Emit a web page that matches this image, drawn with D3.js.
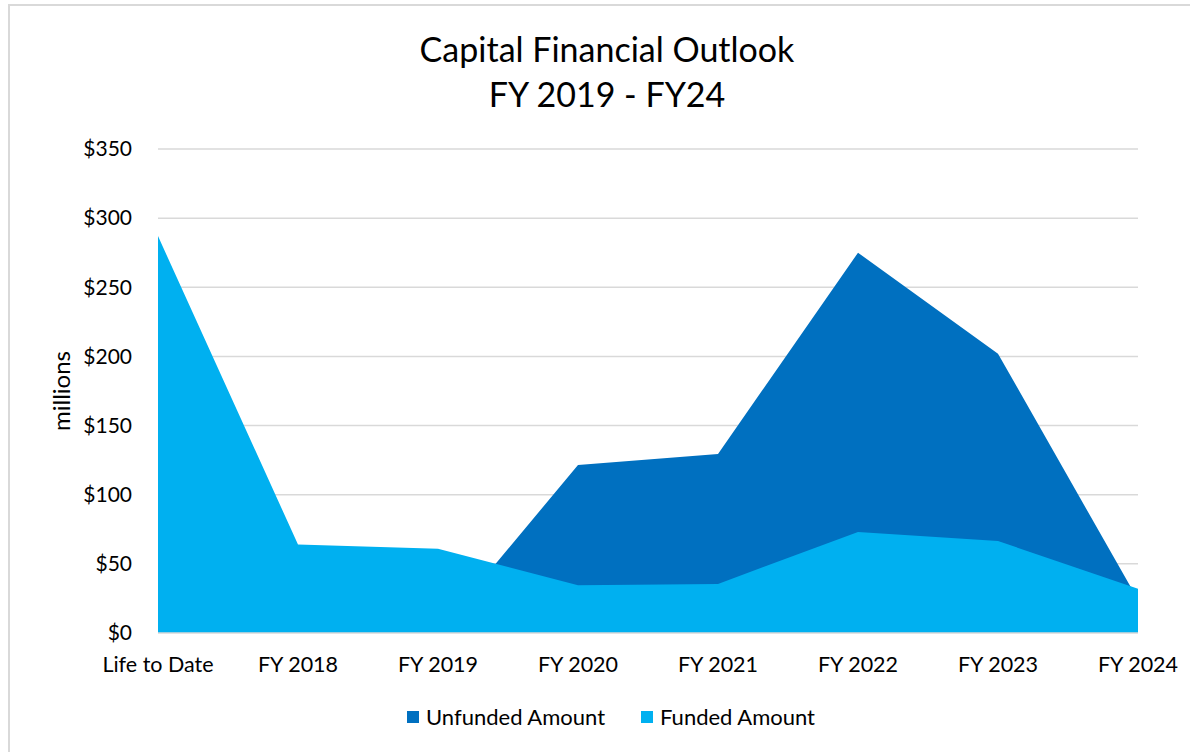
<!DOCTYPE html>
<html>
<head>
<meta charset="utf-8">
<script src="https://cdn.jsdelivr.net/npm/d3@7"></script>
<style>
  html, body { margin: 0; padding: 0; background: #fff; }
  svg { display: block; }
  text { font-family: Lato, "Open Sans", sans-serif; fill: #000; }
</style>
</head>
<body>
<svg id="chart" width="1190" height="752"></svg>
<script>
const categories = ["Life to Date", "FY 2018", "FY 2019", "FY 2020", "FY 2021", "FY 2022", "FY 2023", "FY 2024"];
const unfunded = [0, 0, 0, 121.5, 129.5, 275, 202, 24];
const funded = [287, 64, 61, 34.5, 35.5, 73, 66.5, 32];
const yTicks = [0, 50, 100, 150, 200, 250, 300, 350];
const seriesNames = ["Unfunded Amount", "Funded Amount"];
const colors = ["#0070C0", "#00B0F0"];
const titleLines = ["Capital Financial Outlook", "FY 2019 - FY24"];

const svg = d3.select("#chart");
const m = {left: 158, right: 1138, top: 149, bottom: 633};

// outer border
svg.append("rect").attr("x", 9).attr("y", 5).attr("width", 1200).attr("height", 800)
  .attr("fill", "none").attr("stroke", "#d9d9d9").attr("stroke-width", 2);

const x = d3.scalePoint().domain(categories).range([m.left, m.right]).padding(0);
const y = d3.scaleLinear().domain([0, 350]).range([m.bottom, m.top]);

// gridlines
svg.append("g").selectAll("line").data(yTicks.filter(d => d > 0)).join("line")
  .attr("x1", m.left).attr("x2", m.right)
  .attr("y1", d => y(d)).attr("y2", d => y(d))
  .attr("stroke", "#d9d9d9").attr("stroke-width", 1.5);

// areas
const area = d3.area().x((d, i) => x(categories[i])).y0(y(0)).y1(d => y(d));
[unfunded, funded].forEach((s, i) => {
  svg.append("path").datum(s).attr("d", area).attr("fill", colors[i]);
});

// x axis line
svg.append("line").attr("x1", m.left).attr("x2", m.right).attr("y1", y(0)).attr("y2", y(0))
  .attr("stroke", "#d9d9d9").attr("stroke-width", 1.5);

// y tick labels
svg.append("g").selectAll("text").data(yTicks).join("text")
  .attr("x", 132).attr("y", d => y(d)).attr("dy", "0.35em")
  .attr("text-anchor", "end").attr("font-size", 21)
  .text(d => "$" + d);

// x tick labels
svg.append("g").selectAll("text").data(categories).join("text")
  .attr("x", d => x(d)).attr("y", 672)
  .attr("text-anchor", "middle").attr("font-size", 21.5)
  .text(d => d);

// y axis title
svg.append("text").attr("transform", "translate(62,391) rotate(-90)")
  .attr("dy", "0.35em")
  .attr("text-anchor", "middle").attr("font-size", 24).text("millions");

// title
svg.append("g").selectAll("text").data(titleLines).join("text")
  .attr("x", 607).attr("y", (d, i) => 62 + i * 45)
  .attr("text-anchor", "middle").attr("font-size", 34)
  .text(d => d);

// legend
const legendX = [407, 641];
const lg = svg.append("g").selectAll("g").data(seriesNames).join("g")
  .attr("transform", (d, i) => `translate(${legendX[i]},711)`);
lg.append("rect").attr("width", 12).attr("height", 12).attr("fill", (d, i) => colors[i]);
lg.append("text").attr("x", 19).attr("y", 6).attr("dy", "0.35em").attr("font-size", 22).text(d => d);
</script>
</body>
</html>
